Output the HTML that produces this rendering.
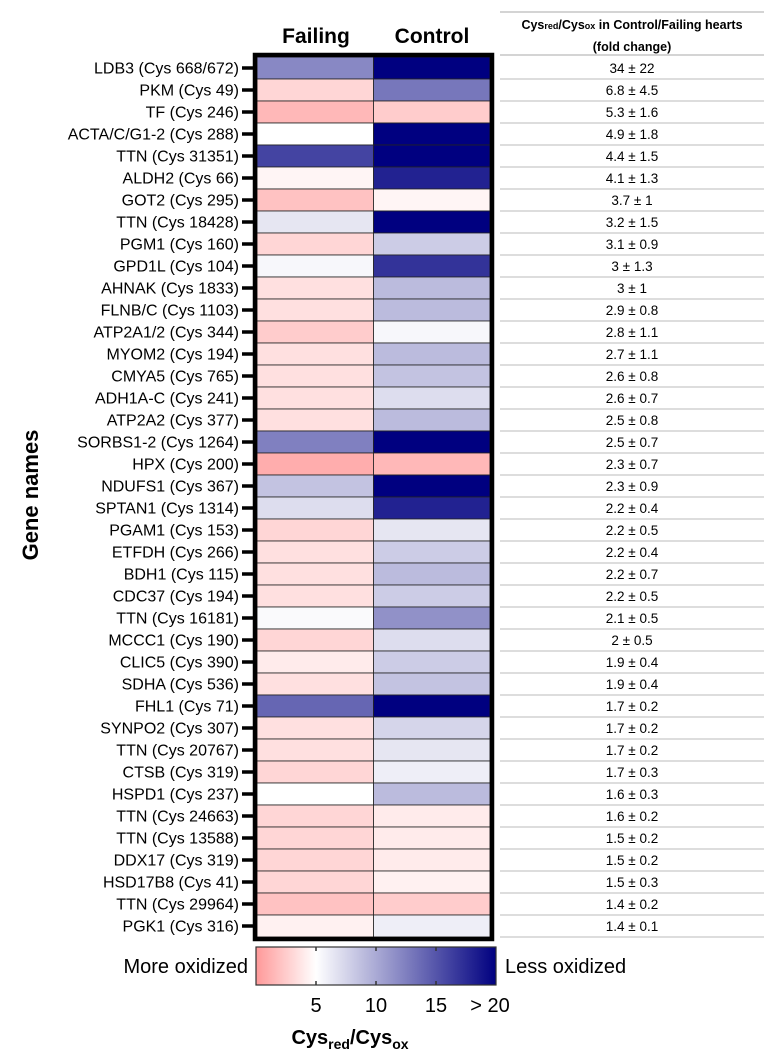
<!DOCTYPE html>
<html><head><meta charset="utf-8"><style>
body{margin:0;width:782px;height:1056px;background:#fff;font-family:"Liberation Sans",sans-serif;overflow:hidden}
svg text{font-family:"Liberation Sans",sans-serif}
</style></head><body>
<svg id="chart" width="782" height="1056"></svg>
<script>
const genes=["LDB3 (Cys 668/672)","PKM (Cys 49)","TF (Cys 246)","ACTA/C/G1-2 (Cys 288)","TTN (Cys 31351)","ALDH2 (Cys 66)","GOT2 (Cys 295)","TTN (Cys 18428)","PGM1 (Cys 160)","GPD1L (Cys 104)","AHNAK (Cys 1833)","FLNB/C (Cys 1103)","ATP2A1/2 (Cys 344)","MYOM2 (Cys 194)","CMYA5 (Cys 765)","ADH1A-C (Cys 241)","ATP2A2 (Cys 377)","SORBS1-2 (Cys 1264)","HPX (Cys 200)","NDUFS1 (Cys 367)","SPTAN1 (Cys 1314)","PGAM1 (Cys 153)","ETFDH (Cys 266)","BDH1 (Cys 115)","CDC37 (Cys 194)","TTN (Cys 16181)","MCCC1 (Cys 190)","CLIC5 (Cys 390)","SDHA (Cys 536)","FHL1 (Cys 71)","SYNPO2 (Cys 307)","TTN (Cys 20767)","CTSB (Cys 319)","HSPD1 (Cys 237)","TTN (Cys 24663)","TTN (Cys 13588)","DDX17 (Cys 319)","HSD17B8 (Cys 41)","TTN (Cys 29964)","PGK1 (Cys 316)"];
const failing=[12,3,1.5,5,16,4.5,2,6.5,3,5.5,3.5,3.5,2.5,3.5,3.5,3.5,3.5,12.5,1,8.5,7,3,3.5,3.5,3.5,5.3,3,4,3.5,14,3.5,3.5,3,5,3,3,3,3,2,4.3];
const control=[20,13,2.5,20,20,18,4.5,20,8,17,9,9,5.5,9,8.5,7,9,20,1.5,20,18,6.5,8,9,8,11.5,7,8,8.5,20,7.5,6.5,6,9,4,4,4,4.3,2.5,6];
const foldChange=["34 ± 22","6.8 ± 4.5","5.3 ± 1.6","4.9 ± 1.8","4.4 ± 1.5","4.1 ± 1.3","3.7 ± 1","3.2 ± 1.5","3.1 ± 0.9","3 ± 1.3","3 ± 1","2.9 ± 0.8","2.8 ± 1.1","2.7 ± 1.1","2.6 ± 0.8","2.6 ± 0.7","2.5 ± 0.8","2.5 ± 0.7","2.3 ± 0.7","2.3 ± 0.9","2.2 ± 0.4","2.2 ± 0.5","2.2 ± 0.4","2.2 ± 0.7","2.2 ± 0.5","2.1 ± 0.5","2 ± 0.5","1.9 ± 0.4","1.9 ± 0.4","1.7 ± 0.2","1.7 ± 0.2","1.7 ± 0.2","1.7 ± 0.3","1.6 ± 0.3","1.6 ± 0.2","1.5 ± 0.2","1.5 ± 0.2","1.5 ± 0.3","1.4 ± 0.2","1.4 ± 0.1"];
const cbTicks=[5,10,15,20];
const cbTickLabels=["5","10","15","> 20"];

const NS="http://www.w3.org/2000/svg";
const svg=document.getElementById('chart');
function mk(tag,attrs,parent){const e=document.createElementNS(NS,tag);for(const k in attrs)e.setAttribute(k,attrs[k]);(parent||svg).appendChild(e);return e;}
const top0=57,rowH=22,x0=257,colW=116.5;
const yRow=i=>top0+i*rowH;
const xCol=j=>x0+j*colW;
const cbX=v=>256+v*12;
function color(v){
  v=Math.max(0,Math.min(20,v));
  let r,g,b;
  if(v<=5){const t=v/5;r=255;g=Math.round(153+102*t);b=Math.round(153+102*t);}
  else{const t=(v-5)/15;r=Math.round(255*(1-t));g=Math.round(255*(1-t));b=Math.round(255-127*t);}
  return `rgb(${r},${g},${b})`;
}
// headers
let t=mk('text',{x:316,y:43,'font-size':21,'font-weight':'bold','text-anchor':'middle'});t.textContent='Failing';


t=mk('text',{x:432,y:43,'font-size':21,'font-weight':'bold','text-anchor':'middle'});t.textContent='Control';


// cells
const series=[failing,control];
series.forEach((arr,j)=>arr.forEach((v,i)=>{
  const r=mk('rect',{x:xCol(j),y:yRow(i),width:colW,height:rowH,fill:color(v),stroke:'#222','stroke-width':0.8});
  
  
}));
const fr=mk('rect',{x:x0-2,y:top0-2,width:2*colW+4,height:genes.length*rowH+4,fill:'none',stroke:'#000','stroke-width':4.5});


// labels + ticks
genes.forEach((g,i)=>{
  const y=yRow(i)+rowH/2;
  const l=mk('line',{x1:242,x2:253,y1:y,y2:y,stroke:'#000','stroke-width':3.5});
  
  
  const tx=mk('text',{x:239,y:y+5.5,'font-size':16,'text-anchor':'end'});tx.textContent=g;
  
  
});
t=mk('text',{x:0,y:0,'font-size':22,'font-weight':'bold','text-anchor':'middle',transform:'translate(38,495) rotate(-90)'});t.textContent='Gene names';


// table
t=mk('text',{x:632,y:29,'font-size':12.5,'font-weight':'bold','text-anchor':'middle'});
t.innerHTML='Cys<tspan font-size="9">red</tspan>/Cys<tspan font-size="9">ox</tspan> in Control/Failing hearts';


t=mk('text',{x:632,y:51,'font-size':12.5,'font-weight':'bold','text-anchor':'middle'});t.textContent='(fold change)';


[12,55].forEach(y=>{const l=mk('line',{x1:500,x2:764,y1:y,y2:y,stroke:'#aaa','stroke-width':1});});
foldChange.forEach((f,i)=>{
  const tx=mk('text',{x:632,y:yRow(i)+rowH/2+5,'font-size':13.5,'text-anchor':'middle'});tx.textContent=f;
  
  
  const l=mk('line',{x1:500,x2:764,y1:yRow(i+1),y2:yRow(i+1),stroke:'#bbb','stroke-width':1});
  
  
});
// colorbar
const defs=mk('defs',{});
const gr=mk('linearGradient',{id:'cb',x1:0,x2:1,y1:0,y2:0},defs);
for(let v=0;v<=20;v+=1){mk('stop',{offset:(v/20),'stop-color':color(v)},gr);}
const cb=mk('rect',{x:cbX(0),y:947,width:cbX(20)-cbX(0),height:38,fill:'url(#cb)',stroke:'#333','stroke-width':1.2});


cbTicks.forEach((v,k)=>{
  if(v<20){mk('line',{x1:cbX(v),x2:cbX(v),y1:947,y2:951,stroke:'#333','stroke-width':1.5});mk('line',{x1:cbX(v),x2:cbX(v),y1:981,y2:985,stroke:'#333','stroke-width':1.5});}
  const tx=mk('text',{x:k===3?cbX(v)-6:cbX(v),y:1012,'font-size':20,'text-anchor':'middle'});tx.textContent=cbTickLabels[k];
  
  
});
t=mk('text',{x:248,y:973,'font-size':20,'text-anchor':'end'});t.textContent='More oxidized';


t=mk('text',{x:505,y:973,'font-size':20}); t.textContent='Less oxidized';


t=mk('text',{x:350,y:1044,'font-size':20,'font-weight':'bold','text-anchor':'middle'});
t.innerHTML='Cys<tspan font-size="14" dy="5">red</tspan><tspan dy="-5">/Cys</tspan><tspan font-size="14" dy="5">ox</tspan>';


</script>
</body></html>
